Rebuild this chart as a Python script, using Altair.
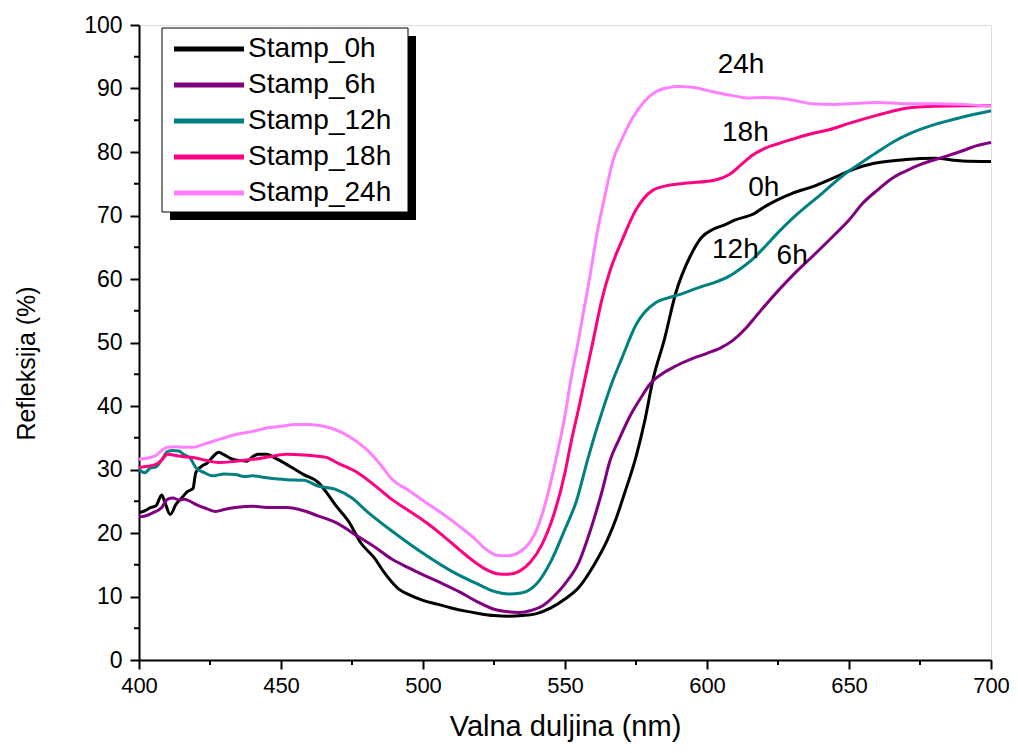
import altair as alt
import pandas as pd

series_names = ["Stamp_0h", "Stamp_6h", "Stamp_12h", "Stamp_18h", "Stamp_24h"]
series_colors = ["#000000", "#800080", "#008080", "#FF0080", "#FF80FF"]

wl_0h = [400, 402, 404, 406, 408, 409, 411, 413, 415, 417, 419, 420, 422, 424, 426, 428, 430, 432, 434, 436,
         438, 440, 442, 445, 448, 452, 455, 458, 463, 466, 469, 474, 478, 483, 486, 489, 492, 495, 500, 505,
         510, 515, 520, 525, 530, 535, 540, 545, 550, 555, 560, 565, 568, 571, 575, 578, 581, 585, 589, 594,
         598, 602, 606, 610, 617, 620, 625, 630, 637, 645, 650, 655, 660, 670, 680, 690, 700]
r_0h = [23.2, 23.5, 24.0, 24.3, 26.0, 25.0, 22.9, 24.5, 25.5, 26.5, 27.0, 29.5, 30.5, 31.0, 32.0, 32.7, 32.3, 31.8, 31.5, 31.4,
        31.3, 32.0, 32.4, 32.4, 31.8, 30.8, 30.0, 29.2, 28.0, 26.4, 24.5, 21.7, 18.5, 16.0, 14.0, 12.3, 11.0, 10.3, 9.4, 8.8,
        8.2, 7.7, 7.3, 7.0, 6.9, 7.0, 7.3, 8.2, 9.6, 11.5, 14.8, 19.0, 22.3, 26.3, 32.0, 37.5, 44.2, 50.5, 57.8, 63.5,
        66.5, 67.8, 68.5, 69.3, 70.4, 71.3, 72.5, 73.5, 74.5, 76.0, 77.0, 77.8, 78.3, 78.8, 79.0, 78.6, 78.5]

wl_6h = [400, 403, 405, 408, 410, 412, 414, 416, 418, 420, 424, 427, 430, 434, 440, 446, 452, 458, 463, 469,
         477, 483, 489, 495, 501, 507, 513, 519, 525, 530, 534, 538, 542, 546, 550, 555, 559, 563, 566, 569,
         573, 577, 580, 585, 589, 595, 600, 605, 609, 614, 617, 620, 630, 637, 645, 650, 655, 660, 665, 670,
         675, 684, 690, 695, 700]
r_6h = [22.5, 22.8, 23.2, 24.0, 25.3, 25.5, 25.2, 25.3, 25.0, 24.5, 23.8, 23.4, 23.7, 24.0, 24.2, 24.0, 24.0, 23.5, 22.7, 21.7,
        19.5, 17.8, 15.9, 14.5, 13.2, 12.0, 10.7, 9.2, 8.0, 7.6, 7.5, 7.8, 8.5, 10.0, 12.0, 15.5, 20.5, 26.5, 31.6, 34.7,
        38.5, 41.5, 43.5, 45.3, 46.3, 47.5, 48.3, 49.2, 50.3, 52.4, 54.0, 55.6, 60.5, 63.5, 67.0, 69.3, 72.0, 74.0, 75.8, 77.0,
        78.0, 79.3, 80.2, 81.0, 81.5]

wl_12h = [400, 402, 404, 406, 408, 410, 412, 414, 416, 418, 420, 423, 426, 430, 434, 437, 440, 445, 452, 458,
          463, 469, 475, 480, 490, 500, 510, 520, 525, 530, 535, 540, 545, 550, 554, 558, 560, 563, 567, 570,
          575, 582, 586, 590, 598, 603, 608, 612, 616, 620, 625, 630, 640, 649, 655, 660, 666, 672, 680, 690, 700]
r_12h = [30.0, 29.5, 30.2, 30.4, 31.5, 32.8, 33.0, 32.9, 32.3, 31.8, 30.3, 29.5, 29.0, 29.3, 29.2, 28.9, 29.0, 28.7, 28.4, 28.3,
         27.4, 26.9, 25.5, 23.5, 20.0, 16.8, 14.0, 11.8, 10.8, 10.4, 10.6, 12.0, 15.5, 20.6, 25.0, 31.6, 34.7, 39.0, 44.2, 47.5,
         52.8, 56.3, 57.0, 57.5, 58.8, 59.5, 60.5, 61.7, 63.1, 64.9, 67.3, 69.5, 73.3, 76.7, 78.5, 80.0, 81.7, 83.0, 84.3, 85.5, 86.5]

wl_18h = [400, 403, 406, 408, 410, 413, 416, 419, 423, 428, 434, 440, 446, 452, 458, 463, 466, 470, 477, 483,
          489, 495, 501, 507, 513, 518, 522, 526, 530, 534, 538, 542, 545, 550, 552, 555, 557, 560, 563, 566,
          570, 575, 581, 587, 593, 603, 608, 612, 616, 620, 625, 630, 636, 643, 650, 660, 666, 672, 680, 690, 700]
r_18h = [30.3, 30.5, 30.8, 31.5, 32.4, 32.2, 32.0, 31.9, 31.5, 31.1, 31.3, 31.6, 32.0, 32.4, 32.3, 32.1, 31.9, 31.0, 29.5, 27.5,
         25.3, 23.5, 21.7, 19.6, 17.3, 15.5, 14.3, 13.6, 13.5, 14.0, 15.5, 18.3, 21.5, 29.5, 34.0, 40.0, 44.2, 50.5, 56.8, 61.5,
         66.0, 70.9, 74.0, 74.8, 75.1, 75.6, 76.5, 78.0, 79.5, 80.5, 81.3, 82.0, 82.8, 83.5, 84.5, 85.8, 86.5, 87.0, 87.2, 87.3, 87.3]

wl_24h = [400, 403, 406, 408, 410, 413, 416, 419, 423, 428, 434, 440, 446, 450, 455, 460, 465, 469, 474, 480,
          485, 489, 495, 501, 507, 513, 518, 522, 526, 530, 534, 538, 540, 542, 545, 547, 550, 552, 555,
          557, 559, 561, 564, 567, 570, 574, 578, 582, 586, 590, 595, 600, 605, 610, 614, 620, 625, 630, 637,
          645, 650, 660, 670, 680, 690, 700]
r_24h = [31.6, 31.8, 32.2, 33.0, 33.5, 33.6, 33.5, 33.5, 34.0, 34.7, 35.5, 36.0, 36.6, 36.8, 37.1, 37.1, 36.8, 36.3, 35.2, 33.2,
         30.8, 28.5, 26.7, 24.8, 23.0, 21.0, 19.2, 17.5, 16.5, 16.4, 17.0, 18.8, 20.5, 23.0, 28.0, 32.0, 38.5, 44.0, 51.0,
         56.0, 61.0, 66.5, 73.0, 78.8, 82.0, 85.5, 88.0, 89.5, 90.1, 90.3, 90.2, 89.7, 89.2, 88.8, 88.5, 88.6, 88.5, 88.2, 87.6,
         87.5, 87.6, 87.8, 87.6, 87.6, 87.5, 87.2]

label_texts = ["24h", "18h", "0h", "12h", "6h"]
label_x = [612, 613.5, 620, 610, 630]
label_y = [93.7, 83.0, 74.4, 64.6, 63.7]

x_major = list(range(400, 701, 50))
x_minor = list(range(425, 700, 50))
y_major = list(range(0, 101, 10))
y_minor = list(range(5, 100, 10))

frames = []
for name, wl, r in zip(series_names,
                       [wl_0h, wl_6h, wl_12h, wl_18h, wl_24h],
                       [r_0h, r_6h, r_12h, r_18h, r_24h]):
    frames.append(pd.DataFrame({"wl": wl, "r": r, "series": name}))
df = pd.concat(frames, ignore_index=True)
labels_df = pd.DataFrame({"text": label_texts, "wl": label_x, "r": label_y})

x_scale = alt.Scale(domain=[400, 700], nice=False, zero=False)
y_scale = alt.Scale(domain=[0, 100], nice=False)

x_axis = alt.Axis(
    values=x_major, title="Valna duljina (nm)",
    grid=False, domainColor="black", domainWidth=2,
    tickColor="black", tickWidth=2, tickSize=9,
    labelFont="Liberation Sans", labelFontSize=22, labelColor="black",
    labelPadding=6, labelFlush=False, labelOverlap=False,
    titleFont="Liberation Sans", titleFontSize=29, titleFontWeight="normal",
    titleColor="black", titlePadding=16,
)
y_axis = alt.Axis(
    values=y_major, title="Refleksija (%)",
    grid=False, domainColor="black", domainWidth=2,
    tickColor="black", tickWidth=2, tickSize=9,
    labelFont="Liberation Sans", labelFontSize=23, labelColor="black",
    labelPadding=8, labelFlush=False, labelOverlap=False,
    titleFont="Liberation Sans", titleFontSize=25, titleFontWeight="normal",
    titleColor="black", titlePadding=44, titleY=338,
)

one = pd.DataFrame({"a": [0]})
shadow = alt.Chart(one).mark_rect(color="black").encode(
    x=alt.value(31), x2=alt.value(277), y=alt.value(11), y2=alt.value(195)
)
box = alt.Chart(one).mark_rect(fill="white", stroke="black", strokeWidth=1).encode(
    x=alt.value(23), x2=alt.value(269), y=alt.value(3), y2=alt.value(187)
)

x_minor_ticks = alt.Chart(pd.DataFrame({"wl": x_minor})).mark_rule(color="black", strokeWidth=2).encode(
    x=alt.X("wl:Q", scale=x_scale), y=alt.value(635), y2=alt.value(640)
)
y_minor_ticks = alt.Chart(pd.DataFrame({"r": y_minor})).mark_rule(color="black", strokeWidth=2).encode(
    y=alt.Y("r:Q", scale=y_scale), x=alt.value(0), x2=alt.value(-5)
)

lines = alt.Chart(df).mark_line(strokeWidth=3, interpolate="monotone").encode(
    x=alt.X("wl:Q", scale=x_scale, axis=x_axis),
    y=alt.Y("r:Q", scale=y_scale, axis=y_axis),
    color=alt.Color(
        "series:N",
        scale=alt.Scale(domain=series_names, range=series_colors),
        legend=alt.Legend(
            title=None, orient="none", legendX=56, legendY=10,
            symbolType="M-3.5,0H3.5", symbolSize=400, symbolStrokeWidth=5,
            labelFont="Liberation Sans", labelFontSize=28, labelColor="black",
            labelOffset=25, rowPadding=8, padding=0,
        ),
    ),
    detail="series:N",
    order=alt.Order("wl:Q"),
)

texts = alt.Chart(labels_df).mark_text(
    font="Liberation Sans", fontSize=28, color="black"
).encode(x=alt.X("wl:Q", scale=x_scale), y=alt.Y("r:Q", scale=y_scale), text="text:N")

chart = alt.layer(shadow, box, x_minor_ticks, y_minor_ticks, lines, texts).properties(
    width=852, height=635,
    padding={"left": 131, "top": 17, "right": 19, "bottom": 85},
    autosize=alt.AutoSizeParams(type="none"),
).configure_view(stroke=None).configure(background="white")

chart.save("out.html", embed_options={"renderer": "svg", "actions": False})
